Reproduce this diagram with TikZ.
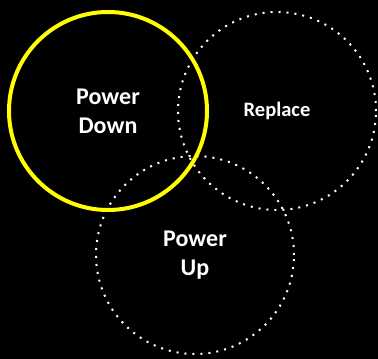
\documentclass[tikz,border=0pt]{standalone}
\usepackage{fontspec}
\setmainfont{Carlito}
\usetikzlibrary{positioning}
\definecolor{corfundo}{RGB}{0,0,0}
\definecolor{coramarela}{RGB}{255,255,0}
\definecolor{corbranca}{RGB}{255,255,255}

\begin{document}
\begin{tikzpicture}[
  x=1pt, y=1pt,
  fase/.style={circle, minimum size=198pt, inner sep=0pt, align=center,
               text=corbranca, font=\bfseries\fontsize{24}{29}\selectfont},
  pontilhado/.style={draw=corbranca, line width=2pt, dash pattern=on 2pt off 6pt},
  destaque/.style={draw=coramarela, line width=4pt}
]
  \fill[corfundo] (0,0) rectangle (378,359);
  \node[fase, pontilhado] (troca) at (277,248)
    {\fontsize{20.5}{25}\selectfont Replace};
  \node[fase, pontilhado] (liga) at (195,104) {Power\\Up};
  \node[fase, destaque] (desliga) at (108,248) {Power\\Down};
\end{tikzpicture}
\end{document}
